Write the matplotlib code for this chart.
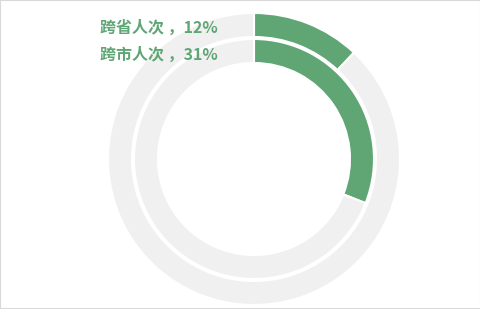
import matplotlib.pyplot as plt
from matplotlib.patches import Rectangle

plt.rcParams["font.family"] = ["Noto Sans CJK SC", "DejaVu Sans"]

# 數據
labels = ["跨省人次", "跨市人次"]
shares = [12, 31]

green = "#5fa674"
grey = "#f0f0f0"

fig = plt.figure(figsize=(4.81, 3.09), dpi=100)
ax = fig.add_axes([0, 0, 1, 1])

cx, cy = 254, 150
radii = [146, 120]
ring_w = 24

for r, val in zip(radii, shares):
    ax.pie(
        [val, 100 - val],
        colors=[green, grey],
        radius=r,
        center=(cx, cy),
        startangle=90,
        counterclock=False,
        wedgeprops=dict(width=ring_w, edgecolor="white", linewidth=1.5),
        frame=True,
    )

ax.set_xlim(0, 481)
ax.set_ylim(0, 309)
ax.set_aspect("equal")
ax.axis("off")

# 標籤
label_y = [281, 254]
for lab, val, y in zip(labels, shares, label_y):
    ax.text(218, y, f"{lab} ，{val}%", ha="right", va="center",
            fontsize=11.5, fontweight="bold", color=green)

# 邊框
fig.patches.append(Rectangle((0, 0), 1, 1, transform=fig.transFigure,
                             fill=False, edgecolor="#d9d9d9", linewidth=1.5))

plt.savefig("out.png", dpi=100)
